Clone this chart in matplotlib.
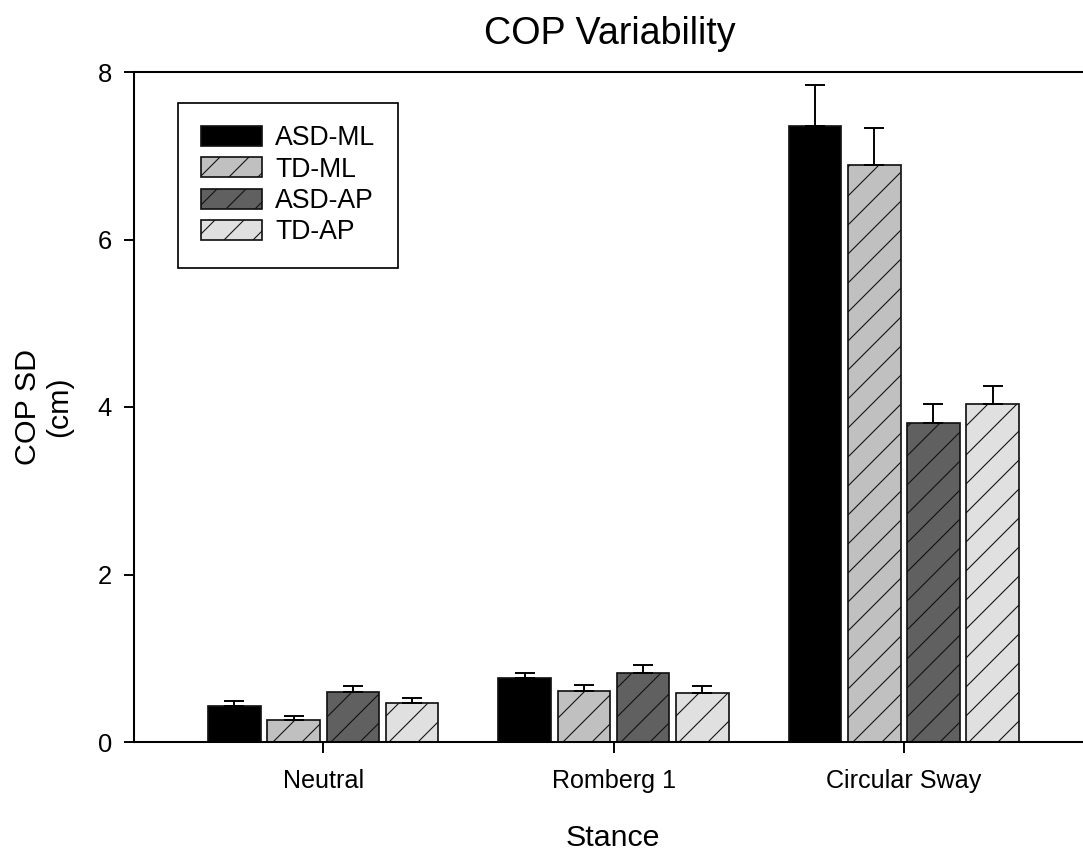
import numpy as np
from matplotlib import pyplot as plt

# stance conditions and series
stances = ["Neutral", "Romberg 1", "Circular Sway"]
labels = ["ASD-ML", "TD-ML", "ASD-AP", "TD-AP"]
means = [[0.43, 0.76, 7.36],
         [0.26, 0.61, 6.89],
         [0.60, 0.82, 3.81],
         [0.47, 0.58, 4.03]]
errs = [[0.06, 0.06, 0.48],
        [0.05, 0.07, 0.44],
        [0.07, 0.10, 0.23],
        [0.06, 0.09, 0.22]]
colors = ["#000000", "#c0c0c0", "#606060", "#e0e0e0"]
hatches = [None, "//", "//", "//"]

DPI = 174
plt.rcParams['font.family'] = ['Liberation Sans', 'DejaVu Sans']
plt.rcParams['hatch.linewidth'] = 0.45
plt.rcParams['hatch.color'] = 'black'

fig = plt.figure(figsize=(1083 / DPI, 858 / DPI), dpi=DPI)
ax = fig.add_axes([134 / 1083, 116 / 858, 958 / 1083, 670 / 858])

x = np.arange(len(stances))
width = 0.181
pitch = 0.204
for i, (m, e, c, h, lab) in enumerate(zip(means, errs, colors, hatches, labels)):
    xs = x + (i - 1.5) * pitch
    ax.bar(xs, m, width, color=c, edgecolor='#111111', linewidth=0.7,
           hatch=h, label=lab, zorder=2)
    ax.errorbar(xs, m, yerr=[np.zeros(len(m)), e], fmt='none', ecolor='black',
                elinewidth=0.8, capsize=4.3, capthick=0.8, zorder=3)

ax.set_xlim(-0.652, 2.648)
ax.set_ylim(0, 8)
ax.set_yticks([0, 2, 4, 6, 8])
ax.set_xticks(x)
ax.set_xticklabels(stances)
ax.tick_params(axis='y', direction='out', length=4.1, width=0.8, pad=5,
               labelsize=10.6)
ax.tick_params(axis='x', direction='out', length=4.5, width=0.8, pad=6.5,
               labelsize=10.4)
for s in ax.spines.values():
    s.set_linewidth(0.85)
ax.spines['right'].set_visible(False)

ax.set_title("COP Variability", fontsize=15.6, x=0.497, y=1.0413, pad=0,
             va='baseline')
ax.set_xlabel("Stance", fontsize=12.6, va='baseline')
ax.xaxis.set_label_coords(0.5, -0.155)
ax.set_ylabel("COP SD\n(cm)", fontsize=12.6, ha='center', va='center',
              linespacing=1.15)
ax.yaxis.set_label_coords(-0.094, 0.5)

leg = ax.legend(loc='upper left', bbox_to_anchor=(0.0459, 0.954),
                borderaxespad=0, fontsize=11, fancybox=False, framealpha=1,
                edgecolor='black', handlelength=2.3, handleheight=0.78,
                handletextpad=0.5, labelspacing=0.2, borderpad=0.85)
leg.get_frame().set_linewidth(0.7)

fig.savefig("out.png", dpi=DPI)
